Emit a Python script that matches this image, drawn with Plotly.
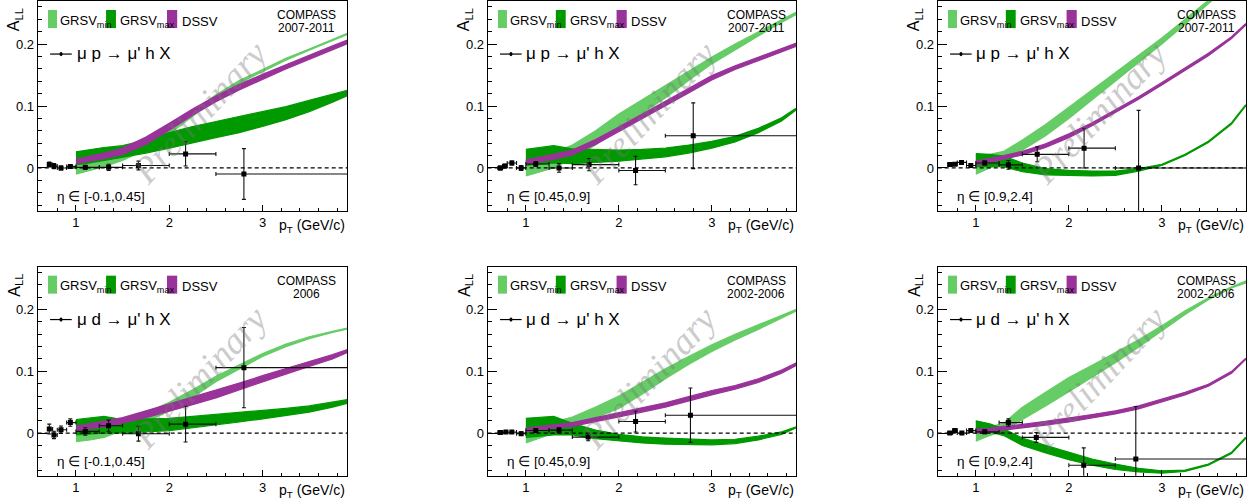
import plotly.graph_objects as go

# ---------------- data ----------------
THEORY_PT = [1.0, 1.15, 1.3, 1.5, 1.75, 2.0, 2.25, 2.5, 2.75, 3.0, 3.25, 3.5, 3.75, 3.9]
BIN_LO = [0.70, 0.75, 0.80, 0.90, 1.00, 1.25, 1.50, 2.00, 2.50]
BIN_HI = [0.75, 0.80, 0.90, 1.00, 1.25, 1.50, 2.00, 2.50, 4.00]

REACTIONS = ["\u03bc p \u2192 \u03bc' h X", "\u03bc d \u2192 \u03bc' h X"]
YEARS = ["2007-2011", "2007-2011", "2007-2011", "2006", "2002-2006", "2002-2006"]
ETA_BINS = ["[-0.1,0.45]", "[0.45,0.9]", "[0.9,2.4]", "[-0.1,0.45]", "[0.45,0.9]", "[0.9,2.4]"]

# panel 1: mu p, eta [-0.1,0.45]
P1_PT = [0.714, 0.764, 0.84, 0.94, 1.10, 1.35, 1.67, 2.175, 2.80]
P1_ALL = [0.0055, 0.003, 0.000, 0.0025, 0.001, 0.001, 0.004, 0.0227, -0.0097]
P1_ERR = [0.004, 0.004, 0.003, 0.003, 0.003, 0.005, 0.007, 0.0195, 0.041]
P1_GMIN_LO = [-0.010, -0.004, 0.002, 0.012, 0.030, 0.055, 0.083, 0.112, 0.137, 0.156, 0.174, 0.190, 0.206, 0.215]
P1_GMIN_HI = [0.012, 0.017, 0.022, 0.030, 0.045, 0.066, 0.091, 0.118, 0.141, 0.159, 0.177, 0.192, 0.208, 0.217]
P1_GMAX_LO = [0.005, 0.008, 0.012, 0.017, 0.024, 0.032, 0.040, 0.049, 0.057, 0.067, 0.078, 0.091, 0.106, 0.116]
P1_GMAX_HI = [0.026, 0.030, 0.033, 0.036, 0.045, 0.057, 0.067, 0.075, 0.083, 0.090, 0.099, 0.109, 0.119, 0.125]
P1_DSSV_LO = [0.007, 0.011, 0.015, 0.022, 0.038, 0.061, 0.085, 0.107, 0.126, 0.143, 0.160, 0.175, 0.191, 0.200]
P1_DSSV_HI = [0.014, 0.019, 0.024, 0.032, 0.050, 0.072, 0.095, 0.116, 0.135, 0.151, 0.167, 0.182, 0.197, 0.206]

# panel 2: mu p, eta [0.45,0.9]
P2_PT = [0.725, 0.775, 0.85, 0.95, 1.107, 1.357, 1.68, 2.18, 2.80]
P2_ALL = [0.0, 0.003, 0.008, 0.0, 0.0065, 0.0, 0.0054, -0.004, 0.052]
P2_ERR = [0.003, 0.003, 0.003, 0.004, 0.004, 0.007, 0.010, 0.023, 0.053]
P2_GMIN_LO = [-0.013, -0.007, 0.000, 0.015, 0.037, 0.064, 0.088, 0.113, 0.141, 0.168, 0.191, 0.213, 0.235, 0.247]
P2_GMIN_HI = [0.012, 0.018, 0.025, 0.037, 0.060, 0.087, 0.110, 0.133, 0.157, 0.179, 0.200, 0.220, 0.240, 0.251]
P2_GMAX_LO = [0.004, 0.006, 0.008, 0.007, 0.009, 0.011, 0.014, 0.018, 0.024, 0.032, 0.042, 0.057, 0.076, 0.093]
P2_GMAX_HI = [0.030, 0.033, 0.036, 0.031, 0.030, 0.029, 0.030, 0.032, 0.037, 0.043, 0.051, 0.064, 0.081, 0.096]
P2_DSSV_LO = [0.006, 0.010, 0.014, 0.021, 0.038, 0.058, 0.079, 0.100, 0.121, 0.142, 0.159, 0.173, 0.187, 0.196]
P2_DSSV_HI = [0.013, 0.017, 0.022, 0.029, 0.046, 0.066, 0.087, 0.108, 0.128, 0.149, 0.165, 0.179, 0.192, 0.201]

# panel 3: mu p, eta [0.9,2.4]
P3_PT = [0.72, 0.775, 0.846, 0.946, 1.096, 1.35, 1.66, 2.164, 2.75]
P3_ALL = [0.0054, 0.006, 0.009, 0.004, 0.008, 0.005, 0.022, 0.032, 0.0]
P3_ERR = [0.002, 0.002, 0.002, 0.002, 0.003, 0.007, 0.012, 0.032, 0.093]
P3_GMIN_LO = [-0.010, 0.000, 0.010, 0.028, 0.052, 0.080, 0.110, 0.140, 0.170, 0.200, 0.232, 0.265, 0.297, 0.316]
P3_GMIN_HI = [0.020, 0.022, 0.027, 0.045, 0.070, 0.098, 0.126, 0.154, 0.182, 0.210, 0.240, 0.271, 0.302, 0.320]
P3_GMAX_LO = [0.002, 0.002, 0.002, -0.006, -0.011, -0.012, -0.013, -0.012, -0.005, 0.004, 0.020, 0.041, 0.071, 0.100]
P3_GMAX_HI = [0.023, 0.022, 0.019, 0.008, -0.001, -0.004, -0.005, -0.005, -0.001, 0.006, 0.022, 0.043, 0.073, 0.102]
P3_DSSV_LO = [0.005, 0.009, 0.014, 0.021, 0.033, 0.049, 0.068, 0.089, 0.111, 0.134, 0.157, 0.181, 0.209, 0.230]
P3_DSSV_HI = [0.011, 0.015, 0.020, 0.027, 0.039, 0.055, 0.073, 0.094, 0.115, 0.138, 0.161, 0.185, 0.212, 0.233]

# panel 4: mu d, eta [-0.1,0.45]
P4_PT = [0.714, 0.764, 0.84, 0.94, 1.10, 1.35, 1.67, 2.175, 2.80]
P4_ALL = [0.0065, -0.003, 0.0054, 0.017, 0.0027, 0.012, -0.001, 0.0145, 0.106]
P4_ERR = [0.008, 0.006, 0.006, 0.006, 0.006, 0.009, 0.012, 0.029, 0.065]
P4_GMIN_LO = [-0.014, -0.011, -0.007, 0.004, 0.018, 0.036, 0.058, 0.083, 0.104, 0.124, 0.140, 0.153, 0.163, 0.168]
P4_GMIN_HI = [0.008, 0.010, 0.012, 0.020, 0.033, 0.050, 0.070, 0.092, 0.111, 0.129, 0.144, 0.156, 0.165, 0.170]
P4_GMAX_LO = [-0.003, -0.002, 0.000, 0.000, 0.002, 0.004, 0.008, 0.013, 0.018, 0.023, 0.028, 0.034, 0.042, 0.048]
P4_GMAX_HI = [0.022, 0.025, 0.027, 0.022, 0.023, 0.024, 0.027, 0.030, 0.034, 0.037, 0.040, 0.044, 0.050, 0.054]
P4_DSSV_LO = [0.004, 0.007, 0.010, 0.016, 0.025, 0.035, 0.046, 0.057, 0.070, 0.083, 0.096, 0.108, 0.120, 0.130]
P4_DSSV_HI = [0.011, 0.015, 0.019, 0.025, 0.036, 0.047, 0.058, 0.069, 0.081, 0.093, 0.105, 0.116, 0.127, 0.135]

# panel 5: mu d, eta [0.45,0.9]
P5_PT = [0.725, 0.786, 0.85, 0.95, 1.107, 1.357, 1.67, 2.18, 2.77]
P5_ALL = [0.001, 0.0016, 0.0016, -0.001, 0.0043, 0.0048, -0.0065, 0.0188, 0.029]
P5_ERR = [0.002, 0.002, 0.002, 0.003, 0.003, 0.004, 0.006, 0.017, 0.044]
P5_GMIN_LO = [-0.016, -0.008, 0.000, 0.012, 0.025, 0.040, 0.063, 0.088, 0.111, 0.132, 0.151, 0.168, 0.186, 0.197]
P5_GMIN_HI = [0.010, 0.014, 0.018, 0.026, 0.042, 0.060, 0.082, 0.104, 0.124, 0.143, 0.160, 0.175, 0.191, 0.200]
P5_GMAX_LO = [-0.007, -0.005, -0.003, -0.003, -0.009, -0.013, -0.016, -0.018, -0.019, -0.019, -0.017, -0.011, -0.002, 0.008]
P5_GMAX_HI = [0.024, 0.026, 0.027, 0.016, 0.005, -0.002, -0.006, -0.008, -0.010, -0.011, -0.010, -0.005, 0.002, 0.0097]
P5_DSSV_LO = [0.002, 0.005, 0.008, 0.011, 0.019, 0.026, 0.034, 0.042, 0.052, 0.062, 0.071, 0.082, 0.097, 0.109]
P5_DSSV_HI = [0.008, 0.011, 0.014, 0.017, 0.025, 0.033, 0.041, 0.049, 0.059, 0.069, 0.077, 0.088, 0.102, 0.113]

# panel 6: mu d, eta [0.9,2.4]
P6_PT = [0.72, 0.775, 0.85, 0.946, 1.096, 1.35, 1.65, 2.16, 2.72]
P6_ALL = [0.0, 0.004, 0.0, 0.004, 0.002, 0.017, -0.007, -0.052, -0.042]
P6_ERR = [0.002, 0.003, 0.002, 0.002, 0.003, 0.006, 0.008, 0.028, 0.085]
P6_GMIN_LO = [-0.013, -0.004, 0.004, 0.022, 0.044, 0.067, 0.090, 0.114, 0.139, 0.165, 0.192, 0.216, 0.235, 0.243]
P6_GMIN_HI = [0.019, 0.010, 0.016, 0.042, 0.066, 0.090, 0.110, 0.130, 0.151, 0.174, 0.198, 0.219, 0.237, 0.246]
P6_GMAX_LO = [0.005, 0.002, -0.004, -0.020, -0.032, -0.043, -0.052, -0.059, -0.063, -0.065, -0.062, -0.052, -0.033, -0.009]
P6_GMAX_HI = [0.020, 0.015, 0.007, -0.008, -0.020, -0.031, -0.042, -0.050, -0.057, -0.061, -0.060, -0.050, -0.031, -0.007]
P6_DSSV_LO = [0.000, 0.002, 0.005, 0.008, 0.013, 0.018, 0.024, 0.031, 0.039, 0.050, 0.062, 0.076, 0.097, 0.119]
P6_DSSV_HI = [0.0065, 0.008, 0.011, 0.014, 0.019, 0.024, 0.030, 0.036, 0.044, 0.055, 0.066, 0.079, 0.100, 0.121]

# ---------------- style ----------------
C_GMIN = "#66cc66"
C_GMAX = "#009900"
C_DSSV = "#993399"
SANS = "Liberation Sans, Arial, Helvetica, sans-serif"
SERIF = "Liberation Serif, Times New Roman, serif"

X_DOMAINS = [[0.02992, 0.27540], [0.38706, 0.63175], [0.74421, 0.98889]]
Y_DOMAINS = [[0.5794, 0.9980], [0.0505, 0.4677]]
X_RANGE = [0.59, 3.905]
Y_RANGE = [-0.069, 0.2695]

panels = [
    (P1_PT, P1_ALL, P1_ERR, P1_GMIN_LO, P1_GMIN_HI, P1_GMAX_LO, P1_GMAX_HI, P1_DSSV_LO, P1_DSSV_HI),
    (P2_PT, P2_ALL, P2_ERR, P2_GMIN_LO, P2_GMIN_HI, P2_GMAX_LO, P2_GMAX_HI, P2_DSSV_LO, P2_DSSV_HI),
    (P3_PT, P3_ALL, P3_ERR, P3_GMIN_LO, P3_GMIN_HI, P3_GMAX_LO, P3_GMAX_HI, P3_DSSV_LO, P3_DSSV_HI),
    (P4_PT, P4_ALL, P4_ERR, P4_GMIN_LO, P4_GMIN_HI, P4_GMAX_LO, P4_GMAX_HI, P4_DSSV_LO, P4_DSSV_HI),
    (P5_PT, P5_ALL, P5_ERR, P5_GMIN_LO, P5_GMIN_HI, P5_GMAX_LO, P5_GMAX_HI, P5_DSSV_LO, P5_DSSV_HI),
    (P6_PT, P6_ALL, P6_ERR, P6_GMIN_LO, P6_GMIN_HI, P6_GMAX_LO, P6_GMAX_HI, P6_DSSV_LO, P6_DSSV_HI),
]

fig = go.Figure()
layout = dict(
    width=1260, height=501,
    margin=dict(l=0, r=0, t=0, b=0),
    paper_bgcolor="white", plot_bgcolor="white",
    showlegend=False,
    font=dict(family=SANS, color="black"),
)
shapes = []
annotations = []

for i, (pt, a, err, gl, gh, xl, xh, dl, dh) in enumerate(panels):
    n = i + 1
    suf = "" if n == 1 else str(n)
    xa, ya = "x" + suf, "y" + suf
    xd, yd = xa + " domain", ya + " domain"
    row, col = i // 3, i % 3

    layout["xaxis" + suf] = dict(
        domain=X_DOMAINS[col], anchor=ya, range=X_RANGE,
        showgrid=False, zeroline=False, showline=True, linecolor="black",
        linewidth=1, mirror=True, ticks="inside", ticklen=6, tickwidth=1,
        tickcolor="black", tick0=0, dtick=1,
        minor=dict(ticks="inside", ticklen=3, tick0=0, dtick=0.2,
                   tickcolor="black", showgrid=False),
        tickfont=dict(family=SANS, size=13, color="black"),
        automargin=False, fixedrange=True,
    )
    layout["yaxis" + suf] = dict(
        domain=Y_DOMAINS[row], anchor=xa, range=Y_RANGE,
        showgrid=False, zeroline=False, showline=True, linecolor="black",
        linewidth=1, mirror=True, ticks="inside", ticklen=9, tickwidth=1,
        tickcolor="black", tick0=0, dtick=0.1,
        minor=dict(ticks="inside", ticklen=4.5, tick0=0, dtick=0.02,
                   tickcolor="black", showgrid=False),
        tickfont=dict(family=SANS, size=13, color="black"),
        automargin=False, fixedrange=True,
    )

    # theory bands
    for lo, hi, c in [(gl, gh, C_GMIN), (xl, xh, C_GMAX), (dl, dh, C_DSSV)]:
        fig.add_trace(go.Scatter(
            x=THEORY_PT + THEORY_PT[::-1], y=hi + lo[::-1],
            mode="lines", fill="toself", fillcolor=c,
            line=dict(color=c, width=1.2),
            xaxis=xa, yaxis=ya, hoverinfo="skip",
        ))

    # data
    fig.add_trace(go.Scatter(
        x=pt, y=a, mode="markers",
        marker=dict(symbol="square", size=5, color="black"),
        error_y=dict(type="data", array=err, color="#111111", thickness=1.1, width=2),
        error_x=dict(type="data", array=[h - x for h, x in zip(BIN_HI, pt)],
                     arrayminus=[x - l for l, x in zip(BIN_LO, pt)],
                     color="#111111", thickness=1.1, width=2),
        xaxis=xa, yaxis=ya, hoverinfo="skip",
    ))

    # zero dashed line
    shapes.append(dict(type="line", xref=xd, yref=ya, x0=0, x1=1, y0=0, y1=0,
                       line=dict(color="black", width=1.2, dash="4px,3px"), layer="above"))

    # legend boxes
    for (x0, x1), c in [((0.0333, 0.0625), C_GMIN), ((0.221, 0.253), C_GMAX), ((0.418, 0.451), C_DSSV)]:
        shapes.append(dict(type="rect", xref=xd, yref=yd, x0=x0, x1=x1, y0=0.871, y1=0.957,
                           fillcolor=c, line=dict(width=0), layer="above"))
    for x0, txt in [(0.067, "GRSV<sub>min</sub>"), (0.261, "GRSV<sub>max</sub>"), (0.459, "DSSV")]:
        annotations.append(dict(xref=xd, yref=yd, x=x0, y=0.903, text=txt, showarrow=False,
                                xanchor="left", yanchor="middle",
                                font=dict(family=SANS, size=13, color="black")))

    # reaction legend
    shapes.append(dict(type="line", xref=xd, yref=yd, x0=0.040, x1=0.110, y0=0.747, y1=0.747,
                       line=dict(color="black", width=1.2), layer="above"))
    shapes.append(dict(type="circle", xref=xd, yref=yd, x0=0.0705, x1=0.0805, y0=0.737, y1=0.757,
                       fillcolor="black", line=dict(width=0), layer="above"))
    annotations.append(dict(xref=xd, yref=yd, x=0.119, y=0.749, text=REACTIONS[row],
                            showarrow=False, xanchor="left", yanchor="middle",
                            font=dict(family=SANS, size=17, color="black")))

    # COMPASS label
    annotations.append(dict(xref=xd, yref=yd, x=0.8705, y=0.933, text="COMPASS",
                            showarrow=False, xanchor="center", yanchor="middle",
                            font=dict(family=SANS, size=12, color="black")))
    annotations.append(dict(xref=xd, yref=yd, x=0.8705, y=0.870, text=YEARS[i],
                            showarrow=False, xanchor="center", yanchor="middle",
                            font=dict(family=SANS, size=12, color="black")))

    # eta label
    annotations.append(dict(xref=xd, yref=yd, x=0.056, y=0.067,
                            text="\u03b7 \u2208 " + ETA_BINS[i],
                            showarrow=False, xanchor="left", yanchor="middle",
                            font=dict(family=SANS, size=13.5, color="black")))

    # Preliminary watermark
    annotations.append(dict(xref=xd, yref=yd, x=0.522, y=0.47, text="<i>Preliminary</i>",
                            showarrow=False, xanchor="center", yanchor="middle", textangle=-47,
                            font=dict(family=SERIF, size=37, color="rgba(120,120,120,0.40)")))

    # axis titles
    annotations.append(dict(xref=xd, yref=yd, x=-0.0744, y=0.912, text="A<sub>LL</sub>",
                            showarrow=False, xanchor="center", yanchor="middle", textangle=-90,
                            font=dict(family=SANS, size=16, color="black")))
    annotations.append(dict(xref=xd, yref=yd, x=1.0, y=-0.075, text="p<sub>T</sub> (GeV/c)",
                            showarrow=False, xanchor="right", yanchor="middle",
                            font=dict(family=SANS, size=14, color="black")))

layout["shapes"] = shapes
layout["annotations"] = annotations
fig.update_layout(**layout)
fig.write_html("out.html")
